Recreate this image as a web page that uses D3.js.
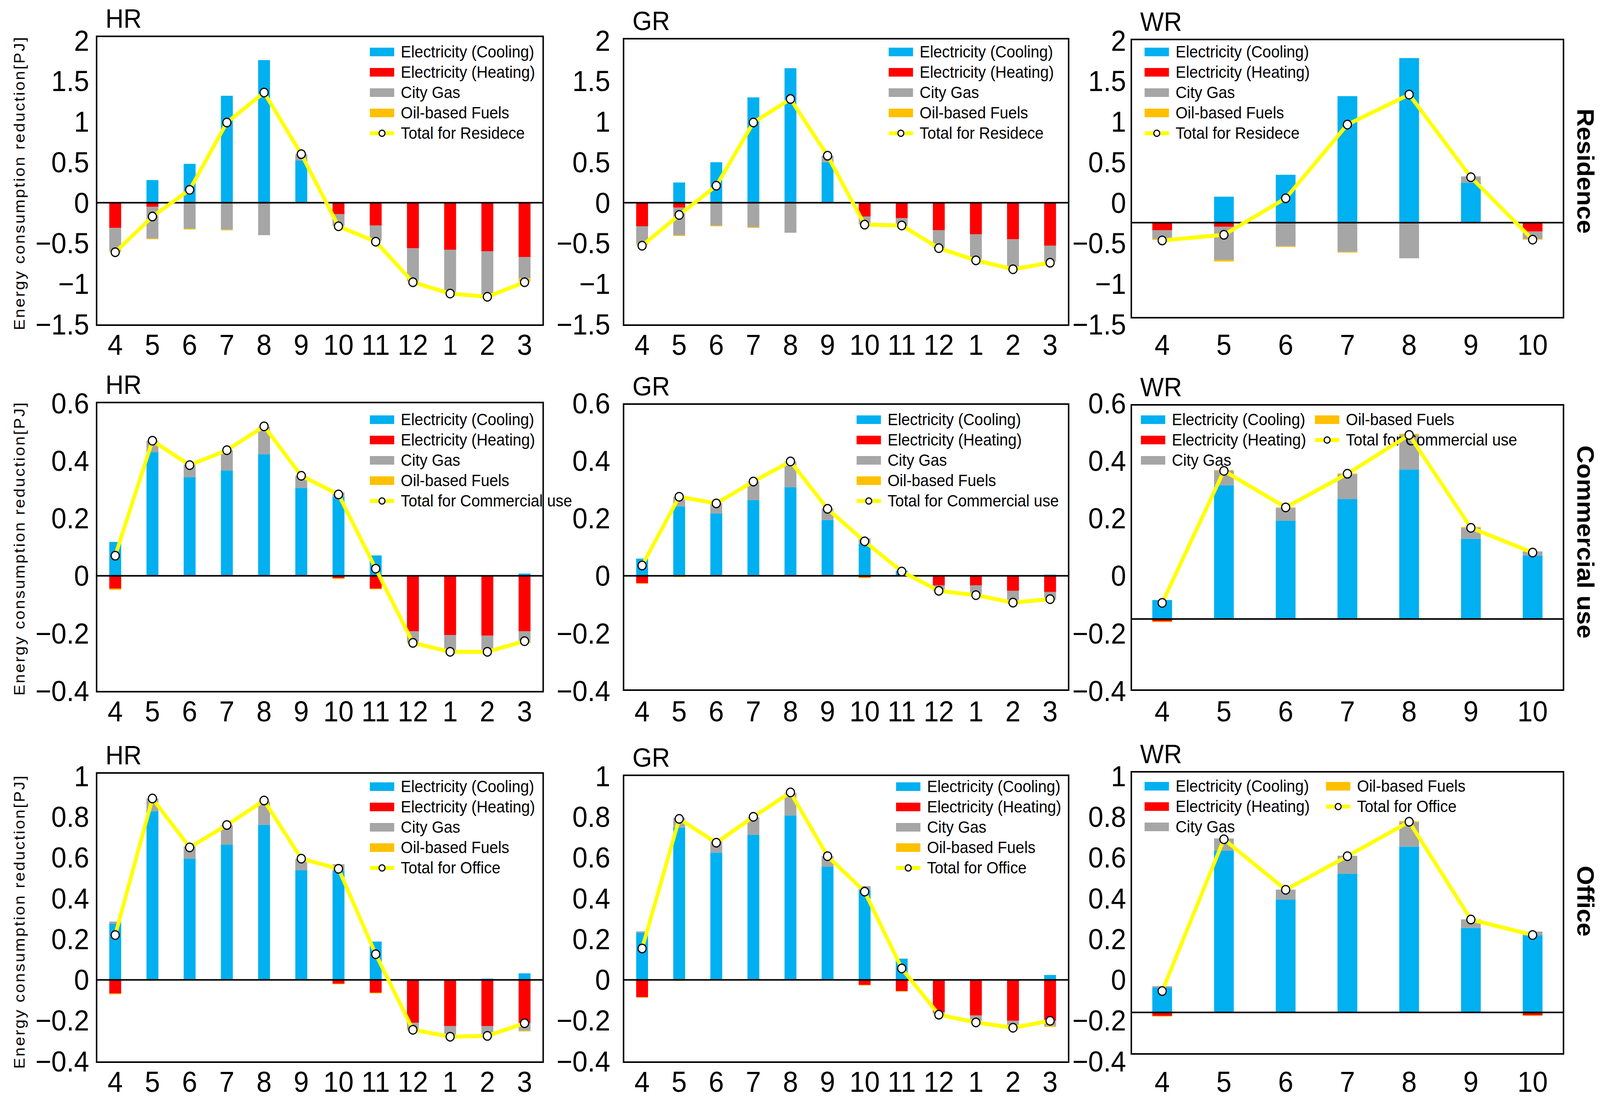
<!DOCTYPE html>
<html>
<head>
<meta charset="utf-8">
<script src="https://cdn.jsdelivr.net/npm/d3@7"></script>
<style>
  html, body { margin: 0; padding: 0; background: #fff; overflow: hidden; }
  svg { display: block; width: 100vw; height: 100vh; }
  text { font-family: "Liberation Sans", Arial, sans-serif; fill: #000; }
</style>
</head>
<body>
<svg></svg>
<script>
// months on the x axis
const monthsYear = ['4', '5', '6', '7', '8', '9', '10', '11', '12', '1', '2', '3'];
const monthsWR = ['4', '5', '6', '7', '8', '9', '10'];

// tick labels per row
const resTicks = [2, 1.5, 1, 0.5, 0, -0.5, -1, -1.5];
const comTicks = [0.6, 0.4, 0.2, 0, -0.2, -0.4];
const offTicks = [1, 0.8, 0.6, 0.4, 0.2, 0, -0.2, -0.4];

const seriesNames = ['Electricity (Cooling)', 'Electricity (Heating)', 'City Gas', 'Oil-based Fuels'];
const seriesColors = ['#00B0F0', '#FF0000', '#A6A6A6', '#FFC000'];

// Residence [PJ]
const hrResCooling = [0, 0.28, 0.48, 1.32, 1.76, 0.52, 0, 0, 0, 0, 0, 0];
const hrResHeating = [-0.31, -0.05, 0, 0, 0, 0, -0.14, -0.28, -0.56, -0.58, -0.60, -0.67];
const hrResGas = [-0.28, -0.39, -0.32, -0.33, -0.40, 0.08, -0.14, -0.18, -0.39, -0.52, -0.54, -0.26];
const hrResOil = [-0.02, -0.01, -0.01, -0.01, 0, 0, -0.01, -0.01, -0.02, -0.01, -0.01, -0.04];
const hrResTotal = [-0.61, -0.17, 0.16, 0.99, 1.36, 0.60, -0.29, -0.48, -0.98, -1.12, -1.16, -0.98];

const grResCooling = [0, 0.25, 0.50, 1.30, 1.66, 0.50, 0, 0, 0, 0, 0, 0];
const grResHeating = [-0.29, -0.06, 0, 0, 0, 0, -0.17, -0.19, -0.34, -0.39, -0.45, -0.53];
const grResGas = [-0.21, -0.34, -0.28, -0.30, -0.37, 0.08, -0.09, -0.09, -0.21, -0.30, -0.35, -0.19];
const grResOil = [-0.02, -0.01, -0.01, -0.01, 0, 0, -0.01, -0.01, -0.01, -0.01, -0.01, -0.01];
const grResTotal = [-0.53, -0.15, 0.21, 0.99, 1.28, 0.58, -0.27, -0.28, -0.56, -0.71, -0.82, -0.74];

const wrResCooling = [0, 0.32, 0.59, 1.56, 2.03, 0.49, 0];
const wrResHeating = [-0.094, -0.05, 0, 0, 0, 0, -0.11];
const wrResGas = [-0.106, -0.41, -0.29, -0.36, -0.44, 0.08, -0.09];
const wrResOil = [-0.014, -0.02, -0.01, -0.01, 0, 0, -0.01];
const wrResTotal = [-0.22, -0.15, 0.30, 1.21, 1.58, 0.56, -0.21];

// Commercial use [PJ]
const hrComCooling = [0.118, 0.43, 0.343, 0.367, 0.423, 0.306, 0.275, 0.071, 0, 0, 0, 0.008];
const hrComHeating = [-0.044, 0, 0, 0, 0, 0, -0.008, -0.044, -0.193, -0.206, -0.208, -0.193];
const hrComGas = [0, 0.04, 0.044, 0.07, 0.095, 0.042, 0.015, 0, -0.036, -0.053, -0.05, -0.036];
const hrComOil = [-0.005, 0, 0, 0, 0, 0, -0.003, -0.003, -0.005, -0.004, -0.004, -0.005];
const hrComTotal = [0.07, 0.47, 0.385, 0.437, 0.52, 0.348, 0.283, 0.025, -0.233, -0.264, -0.264, -0.227];

const grComCooling = [0.06, 0.242, 0.217, 0.263, 0.308, 0.194, 0.113, 0.018, 0, 0, 0, 0.004];
const grComHeating = [-0.025, 0, 0, 0, 0, 0, -0.005, 0, -0.033, -0.033, -0.052, -0.056];
const grComGas = [0, 0.033, 0.036, 0.065, 0.09, 0.04, 0.017, 0, -0.018, -0.029, -0.033, -0.025];
const grComOil = [-0.003, -0.004, 0, 0, 0, 0, -0.003, 0, -0.002, -0.002, -0.003, -0.003];
const grComTotal = [0.036, 0.275, 0.252, 0.328, 0.398, 0.233, 0.12, 0.015, -0.052, -0.067, -0.093, -0.081];

const wrComCooling = [0.066, 0.465, 0.342, 0.417, 0.52, 0.279, 0.221];
const wrComHeating = [-0.008, 0, 0, 0, 0, 0, 0];
const wrComGas = [0, 0.05, 0.044, 0.086, 0.119, 0.038, 0.014];
const wrComOil = [-0.003, 0.003, 0.002, 0.003, 0.005, 0.003, -0.003];
const wrComTotal = [0.056, 0.515, 0.388, 0.505, 0.64, 0.317, 0.231];

// Office [PJ]
const hrOffCooling = [0.275, 0.828, 0.595, 0.664, 0.761, 0.538, 0.535, 0.188, 0, 0, 0.006, 0.032];
const hrOffHeating = [-0.067, 0, 0, 0, 0, 0, -0.019, -0.063, -0.211, -0.227, -0.227, -0.213];
const hrOffGas = [0.011, 0.062, 0.06, 0.096, 0.111, 0.056, 0.032, 0, -0.032, -0.05, -0.05, -0.036];
const hrOffOil = [-0.004, -0.004, 0, 0, 0.005, 0, -0.003, -0.004, -0.004, 0, 0, -0.004];
const hrOffTotal = [0.22, 0.89, 0.65, 0.76, 0.88, 0.595, 0.545, 0.126, -0.245, -0.279, -0.275, -0.213];

const grOffCooling = [0.232, 0.748, 0.625, 0.712, 0.807, 0.555, 0.443, 0.104, 0, 0, 0, 0.024];
const grOffHeating = [-0.085, 0, 0, 0, 0, 0, -0.025, -0.055, -0.159, -0.175, -0.201, -0.201];
const grOffGas = [0.006, 0.047, 0.056, 0.086, 0.111, 0.052, 0.017, 0, -0.006, -0.026, -0.024, -0.024];
const grOffOil = [-0.003, -0.005, -0.003, 0, 0, 0, -0.003, -0.003, -0.003, 0, 0, -0.006];
const grOffTotal = [0.154, 0.79, 0.673, 0.80, 0.92, 0.607, 0.433, 0.056, -0.171, -0.209, -0.235, -0.201];

const wrOffCooling = [0.123, 0.794, 0.555, 0.681, 0.814, 0.415, 0.379];
const wrOffHeating = [-0.017, 0, 0, 0, 0, 0, -0.014];
const wrOffGas = [0.006, 0.06, 0.048, 0.088, 0.119, 0.042, 0.018];
const wrOffOil = [-0.003, -0.003, 0, 0, 0.006, 0, -0.003];
const wrOffTotal = [0.105, 0.85, 0.602, 0.767, 0.936, 0.456, 0.38];

// ---- layout ----
const W = 4339, H = 2820;
const svg = d3.select('svg')
  .attr('viewBox', `0 0 ${W} ${H}`)
  .attr('preserveAspectRatio', 'none');

const colX = [[262, 1473], [1691, 2898], [3068, 4240]];
const tickGap = [20, 36, 14];
const rowTickY = [[104, 830], [1032, 1768], [1986, 2716]];
const rowTicks = [resTicks, comTicks, offTicks];
const rowSide = ['Residence', 'Commercial use', 'Office'];
const rowSideY = [438, 1387, 2306];
const rowAxisY = [470, 1405, 2360];
const rowTotalName = ['Total for Residece', 'Total for Commercial use', 'Total for Office'];

const panels = [
  {row: 0, col: 0, name: 'HR', months: monthsYear, bars: [hrResCooling, hrResHeating, hrResGas, hrResOil], total: hrResTotal,
   box: [93, 832], zeroAt: 0, legend: {cols: [[1003, [0, 1, 2, 3, 4]]], y0: 133}},
  {row: 0, col: 1, name: 'GR', months: monthsYear, bars: [grResCooling, grResHeating, grResGas, grResOil], total: grResTotal,
   box: [99, 832], zeroAt: 0, legend: {cols: [[2410, [0, 1, 2, 3, 4]]], y0: 133}},
  {row: 0, col: 2, name: 'WR', months: monthsWR, bars: [wrResCooling, wrResHeating, wrResGas, wrResOil], total: wrResTotal,
   box: [101, 813], zeroAt: -0.245, legend: {cols: [[3104, [0, 1, 2, 3, 4]]], y0: 133}},

  {row: 1, col: 0, name: 'HR', months: monthsYear, bars: [hrComCooling, hrComHeating, hrComGas, hrComOil], total: hrComTotal,
   box: [1030, 1770], zeroAt: 0, legend: {cols: [[1003, [0, 1, 2, 3, 4]]], y0: 1074}},
  {row: 1, col: 1, name: 'GR', months: monthsYear, bars: [grComCooling, grComHeating, grComGas, grComOil], total: grComTotal,
   box: [1034, 1766], zeroAt: 0, legend: {cols: [[2323, [0, 1, 2, 3, 4]]], y0: 1074}},
  {row: 1, col: 2, name: 'WR', months: monthsWR, bars: [wrComCooling, wrComHeating, wrComGas, wrComOil], total: wrComTotal,
   box: [1036, 1766], zeroAt: -0.15, legend: {cols: [[3094, [0, 1, 2]], [3566, [3, 4]]], y0: 1074}},

  {row: 2, col: 0, name: 'HR', months: monthsYear, bars: [hrOffCooling, hrOffHeating, hrOffGas, hrOffOil], total: hrOffTotal,
   box: [1978, 2718], zeroAt: 0, legend: {cols: [[1003, [0, 1, 2, 3, 4]]], y0: 2013}},
  {row: 2, col: 1, name: 'GR', months: monthsYear, bars: [grOffCooling, grOffHeating, grOffGas, grOffOil], total: grOffTotal,
   box: [1984, 2718], zeroAt: 0, legend: {cols: [[2430, [0, 1, 2, 3, 4]]], y0: 2013}},
  {row: 2, col: 2, name: 'WR', months: monthsWR, bars: [wrOffCooling, wrOffHeating, wrOffGas, wrOffOil], total: wrOffTotal,
   box: [1975, 2697], zeroAt: -0.16, legend: {cols: [[3104, [0, 1, 2]], [3596, [3, 4]]], y0: 2012}}
];

const fmtTick = v => (v < 0 ? '\u2212' : '') + String(Math.abs(v));

panels.forEach(p => {
  const [x0, x1] = colX[p.col];
  const ticks = rowTicks[p.row];
  const [ty0, ty1] = rowTickY[p.row];
  const lo = d3.min(ticks), hi = d3.max(ticks);

  const tickY = d3.scaleLinear().domain([lo, hi]).range([ty1, ty0]);
  // bars sit on a baseline that can be offset from the tick labels (WR panels)
  const y = d3.scaleLinear().domain([lo - p.zeroAt, hi - p.zeroAt]).range([ty1, ty0]);
  const x = d3.scaleBand().domain(p.months).range([x0, x1]).paddingInner(0.68).paddingOuter(0.34);

  const g = svg.append('g');

  g.append('rect')
    .attr('x', x0).attr('y', p.box[0])
    .attr('width', x1 - x0).attr('height', p.box[1] - p.box[0])
    .attr('fill', '#fff');

  // title
  g.append('text')
    .attr('x', x0 + 24).attr('y', p.box[0] - 22)
    .attr('font-size', 68)
    .text(p.name);

  // y tick labels
  g.selectAll('.ytick').data(ticks).join('text')
    .attr('x', x0 - tickGap[p.col])
    .attr('y', d => tickY(d))
    .attr('text-anchor', 'end')
    .attr('dominant-baseline', 'central')
    .attr('font-size', 74)
    .text(fmtTick);

  // x tick labels
  g.selectAll('.xtick').data(p.months).join('text')
    .attr('x', d => x(d) + x.bandwidth() / 2)
    .attr('y', ty1 + 52)
    .attr('text-anchor', 'middle')
    .attr('dominant-baseline', 'central')
    .attr('font-size', 74)
    .text(d => d);

  // stacked bars
  const rows = p.months.map((m, i) => ({month: m, v: p.bars.map(s => s[i])}));
  const stacked = d3.stack()
    .keys([0, 1, 2, 3])
    .value((d, k) => d.v[k])
    .offset(d3.stackOffsetDiverging)(rows);

  g.append('g').selectAll('g').data(stacked).join('g')
    .attr('fill', (d, i) => seriesColors[i])
    .selectAll('rect').data(d => d).join('rect')
    .attr('x', d => x(d.data.month))
    .attr('width', x.bandwidth())
    .attr('y', d => y(Math.max(d[0], d[1])))
    .attr('height', d => Math.abs(y(d[0]) - y(d[1])));

  // zero line
  g.append('line')
    .attr('x1', x0).attr('x2', x1)
    .attr('y1', y(0)).attr('y2', y(0))
    .attr('stroke', '#000').attr('stroke-width', 4);

  // frame outline
  g.append('rect')
    .attr('x', x0).attr('y', p.box[0])
    .attr('width', x1 - x0).attr('height', p.box[1] - p.box[0])
    .attr('fill', 'none').attr('stroke', '#000').attr('stroke-width', 4);

  // legend
  const lg = g.append('g');
  p.legend.cols.forEach(([lx, items]) => {
    items.forEach((k, j) => {
      const ly = p.legend.y0 + j * 52;
      if (k < 4) {
        lg.append('rect')
          .attr('x', lx).attr('y', ly - 11)
          .attr('width', 66).attr('height', 22)
          .attr('fill', seriesColors[k]);
      } else {
        lg.append('line')
          .attr('x1', lx).attr('x2', lx + 66)
          .attr('y1', ly).attr('y2', ly)
          .attr('stroke', '#FFFF00').attr('stroke-width', 10);
        lg.append('circle')
          .attr('cx', lx + 33).attr('cy', ly).attr('r', 8)
          .attr('fill', '#fff').attr('stroke', '#000').attr('stroke-width', 3);
      }
      lg.append('text')
        .attr('x', lx + 84).attr('y', ly)
        .attr('dominant-baseline', 'central')
        .attr('font-size', 42)
        .text(k < 4 ? seriesNames[k] : rowTotalName[p.row]);
    });
  });

  // total line with markers
  const line = d3.line()
    .x((d, i) => x(p.months[i]) + x.bandwidth() / 2)
    .y(d => y(d));

  g.append('path')
    .datum(p.total)
    .attr('d', line)
    .attr('fill', 'none')
    .attr('stroke', '#FFFF00')
    .attr('stroke-width', 10)
    .attr('stroke-linejoin', 'round');

  g.selectAll('.mark').data(p.total).join('circle')
    .attr('cx', (d, i) => x(p.months[i]) + x.bandwidth() / 2)
    .attr('cy', d => y(d))
    .attr('r', 11)
    .attr('fill', '#fff')
    .attr('stroke', '#000')
    .attr('stroke-width', 3);
});

// y axis titles and row names on the right
[0, 1, 2].forEach(r => {
  svg.append('text')
    .attr('transform', `translate(52,${rowAxisY[r]}) rotate(-90)`)
    .attr('text-anchor', 'middle')
    .attr('dominant-baseline', 'central')
    .attr('font-family', '"DejaVu Sans", sans-serif')
    .attr('font-size', 42)
    .attr('textLength', 750)
    .attr('lengthAdjust', 'spacing')
    .text('Energy consumption reduction[PJ]');

  svg.append('text')
    .attr('transform', `translate(4300,${rowSideY[r]}) rotate(90)`)
    .attr('text-anchor', 'middle')
    .attr('dominant-baseline', 'central')
    .attr('font-size', 64)
    .attr('font-weight', 'bold')
    .text(rowSide[r]);
});
</script>
</body>
</html>
